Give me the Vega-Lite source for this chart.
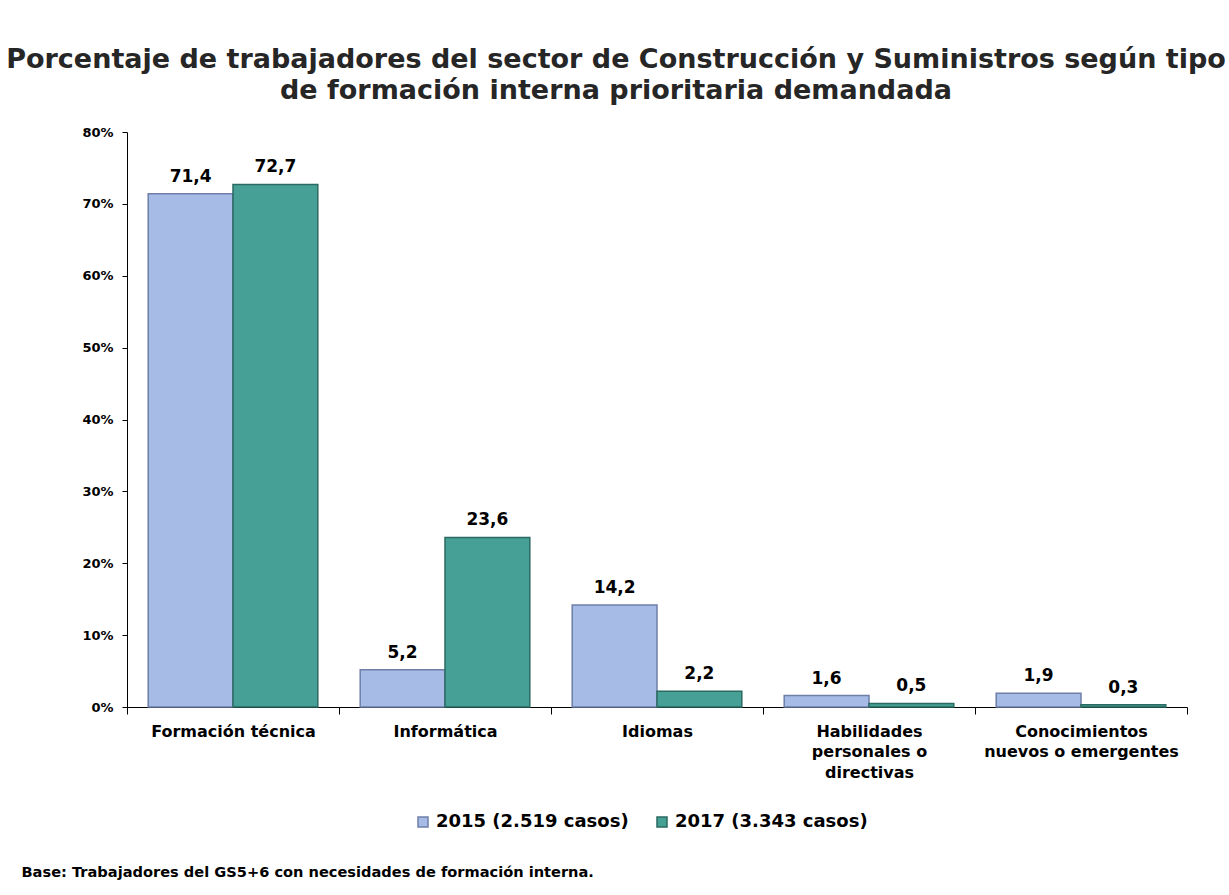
{
"$schema": "https://vega.github.io/schema/vega-lite/v6.json",
"width": 1060, "height": 575,
"autosize": {"type": "none"},
"padding": {"left": 127, "top": 132, "right": 42, "bottom": 188},
"background": "white",
"config": {
  "locale": {"number": {"decimal": ",", "thousands": ".", "grouping": [3], "currency": ["", " €"]}},
  "view": {"stroke": null},
  "font": "DejaVu Sans"
},
"title": {
  "text": ["Porcentaje de trabajadores del sector de Construcción y Suministros según tipo", "de formación interna prioritaria demandada"],
  "fontSize": 27, "fontWeight": "bold", "color": "#262626", "anchor": "middle", "frame": "group",
  "dx": -41, "offset": 21, "lineHeight": 31, "limit": 0
},
"data": {"values": [
  {"categoria": "Formación técnica", "anio": "2015 (2.519 casos)", "valor": 71.4},
  {"categoria": "Formación técnica", "anio": "2017 (3.343 casos)", "valor": 72.7},
  {"categoria": "Informática", "anio": "2015 (2.519 casos)", "valor": 5.2},
  {"categoria": "Informática", "anio": "2017 (3.343 casos)", "valor": 23.6},
  {"categoria": "Idiomas", "anio": "2015 (2.519 casos)", "valor": 14.2},
  {"categoria": "Idiomas", "anio": "2017 (3.343 casos)", "valor": 2.2},
  {"categoria": "Habilidades personales o directivas", "anio": "2015 (2.519 casos)", "valor": 1.6},
  {"categoria": "Habilidades personales o directivas", "anio": "2017 (3.343 casos)", "valor": 0.5},
  {"categoria": "Conocimientos nuevos o emergentes", "anio": "2015 (2.519 casos)", "valor": 1.9},
  {"categoria": "Conocimientos nuevos o emergentes", "anio": "2017 (3.343 casos)", "valor": 0.3}
]},
"encoding": {
  "x": {
    "field": "categoria", "type": "nominal", "sort": null,
    "scale": {"paddingInner": 0, "paddingOuter": 0},
    "axis": {
      "labelAngle": 0, "tickBand": "extent", "tickSize": 7, "tickColor": "black", "domainColor": "black",
      "labelFontSize": 16, "labelFontWeight": "bold", "labelColor": "black", "labelPadding": 9, "labelLineHeight": 20.5,
      "labelLimit": 0,
      "labelExpr": "datum.label == 'Habilidades personales o directivas' ? ['Habilidades', 'personales o', 'directivas'] : datum.label == 'Conocimientos nuevos o emergentes' ? ['Conocimientos', 'nuevos o emergentes'] : datum.label",
      "title": "Base: Trabajadores del GS5+6 con necesidades de formación interna.",
      "titleAnchor": "start", "titleX": -106, "titleY": 157, "titleFontSize": 14.6, "titleFontWeight": "bold", "titleColor": "black",
      "titleLimit": 0
    }
  },
  "xOffset": {"field": "anio", "type": "nominal", "scale": {"paddingOuter": 0.25, "paddingInner": 0}},
  "y": {
    "field": "valor", "type": "quantitative",
    "scale": {"domain": [0, 80], "nice": false},
    "axis": {
      "values": [0, 10, 20, 30, 40, 50, 60, 70, 80], "labelExpr": "datum.value + '%'", "grid": false,
      "domainColor": "black", "tickColor": "black", "tickSize": 5, "labelFontSize": 13, "labelFontWeight": "bold",
      "labelColor": "black", "labelPadding": 9, "title": null
    }
  }
},
"layer": [
  {
    "mark": {"type": "bar", "strokeWidth": 1.5},
    "encoding": {
      "color": {
        "field": "anio", "type": "nominal",
        "scale": {"domain": ["2015 (2.519 casos)", "2017 (3.343 casos)"], "range": ["#A7BBE7", "#46A096"]},
        "legend": {
          "orient": "none", "legendX": 287, "legendY": 681, "direction": "horizontal", "title": null,
          "labelFontSize": 18, "labelFontWeight": "bold", "labelColor": "black", "symbolType": "square",
          "symbolSize": 100, "columnPadding": 24, "labelOffset": 4, "labelLimit": 0
        }
      },
      "stroke": {
        "field": "anio", "type": "nominal",
        "scale": {"domain": ["2015 (2.519 casos)", "2017 (3.343 casos)"], "range": ["#6F7FA8", "#2A6A62"]},
        "legend": null
      }
    }
  },
  {
    "mark": {"type": "text", "baseline": "bottom", "dy": -8, "fontWeight": "bold", "fontSize": 17, "color": "black"},
    "encoding": {"text": {"field": "valor", "type": "quantitative", "format": ".1f"}}
  }
]
}
